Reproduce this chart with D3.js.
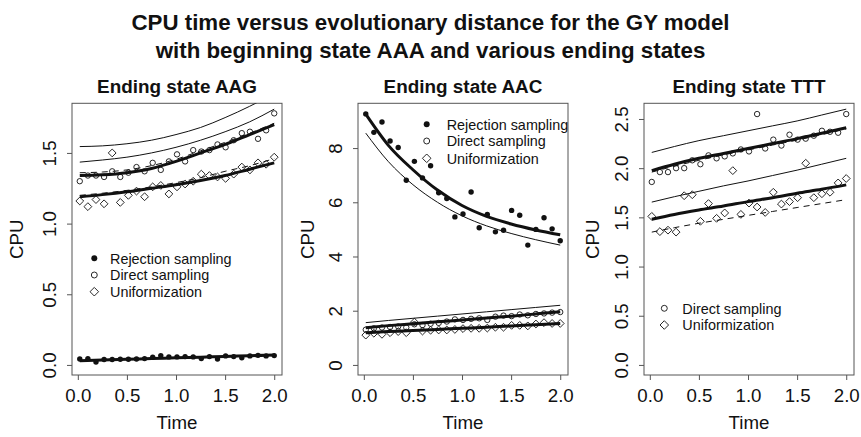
<!DOCTYPE html>
<html>
<head>
<meta charset="utf-8">
<script src="https://cdn.jsdelivr.net/npm/d3@7/dist/d3.min.js"></script>
<style>
  html, body { margin: 0; padding: 0; background: #fff; }
  svg { display: block; font-family: "Liberation Sans", Arial, Helvetica, sans-serif; }
</style>
</head>
<body>
<svg id="chart" width="861" height="437"></svg>
<script>
// ---------- DATA ----------
const titleLines = ["CPU time versus evolutionary distance for the GY model",
                    "with beginning state AAA and various ending states"];
const panelTitles = ["Ending state AAG", "Ending state AAC", "Ending state TTT"];
const xTicks = [0.0, 0.5, 1.0, 1.5, 2.0];
const xLimits = [0.02, 2.0];

// observation times
const time = [0.02, 0.1025, 0.185, 0.2675, 0.35, 0.4325, 0.515, 0.5975, 0.68, 0.7625,
              0.845, 0.9275, 1.01, 1.0925, 1.175, 1.2575, 1.34, 1.4225, 1.505, 1.5875,
              1.67, 1.7525, 1.835, 1.9175, 2.0];
// times at which the fitted / reference curves are read
const curveTime = [0.02, 0.25, 0.5, 0.75, 1.0, 1.25, 1.5, 1.75, 2.0];

// Panel 1: AAG
const aagYLimits = [0, 1.78];
const aagYTicks = [0.0, 0.5, 1.0, 1.5];
const aagRejection = [0.042,0.045,0.021,0.038,0.038,0.040,0.040,0.042,0.045,0.054,0.066,0.057,0.057,0.059,0.057,0.045,0.059,0.042,0.064,0.059,0.050,0.064,0.068,0.064,0.066];
const aagDirect    = [1.30,1.34,1.34,1.33,1.37,1.33,1.36,1.40,1.37,1.43,1.38,1.44,1.49,1.44,1.52,1.51,1.52,1.56,1.54,1.59,1.64,1.65,1.60,1.66,1.78];
const aagUniform   = [1.16,1.12,1.17,1.14,1.50,1.15,1.20,1.23,1.19,1.26,1.27,1.21,1.26,1.28,1.30,1.35,1.34,1.33,1.32,1.35,1.40,1.38,1.43,1.42,1.47];
const aagRejFit    = [0.030,0.035,0.040,0.045,0.050,0.055,0.060,0.065,0.070];
const aagDirFit    = [1.34,1.345,1.36,1.39,1.44,1.50,1.56,1.63,1.70];
const aagDirDash   = [1.36,1.365,1.38,1.41,1.455,1.515,1.575,1.64,1.71];
const aagDirThinA  = [1.545,1.55,1.565,1.59,1.63,1.68,1.75,1.83,1.92];
const aagDirThinB  = [1.435,1.45,1.47,1.50,1.54,1.59,1.65,1.72,1.81];
const aagUniFit    = [1.19,1.205,1.225,1.25,1.275,1.305,1.34,1.385,1.43];
const aagUniDash   = [1.20,1.215,1.235,1.26,1.29,1.325,1.37,1.41,1.46];

// Panel 2: AAC
const aacYLimits = [0, 9.28];
const aacYTicks = [0, 2, 4, 6, 8];
const aacRejection = [9.26,8.58,8.96,8.26,8.02,6.81,7.51,6.90,7.35,6.35,6.14,5.46,5.57,6.38,5.06,5.55,4.91,4.97,5.70,5.52,4.42,5.00,5.43,5.02,4.58];
const aacDirect    = [1.30,1.35,1.38,1.40,1.42,1.38,1.50,1.47,1.52,1.55,1.60,1.68,1.66,1.70,1.72,1.66,1.78,1.82,1.80,1.86,1.83,1.88,1.90,1.93,1.95];
const aacUniform   = [1.10,1.17,1.13,1.19,1.23,1.19,1.58,1.25,1.28,1.29,1.29,1.31,1.34,1.35,1.35,1.36,1.39,1.39,1.46,1.46,1.44,1.51,1.56,1.53,1.53];
const aacRejFit    = [9.25,8.10,7.20,6.45,5.88,5.48,5.20,4.98,4.80];
const aacRejThin   = [8.55,7.50,6.65,6.00,5.50,5.13,4.85,4.62,4.42];
const aacDirFit    = [1.375,1.45,1.52,1.59,1.66,1.73,1.80,1.88,1.96];
const aacDirThin   = [1.56,1.64,1.72,1.80,1.88,1.96,2.04,2.12,2.20];
const aacUniFit    = [1.19,1.23,1.27,1.31,1.35,1.39,1.44,1.48,1.53];

// Panel 3: TTT
const tttYLimits = [0, 2.557];
const tttYTicks = [0.0, 0.5, 1.0, 1.5, 2.0, 2.5];
const tttDirect    = [1.86,1.96,1.96,2.00,2.00,2.08,2.04,2.13,2.10,2.12,2.15,2.19,2.17,2.55,2.20,2.29,2.23,2.34,2.29,2.30,2.33,2.38,2.37,2.36,2.55];
const tttUniform   = [1.51,1.355,1.37,1.35,1.72,1.73,1.46,1.64,1.49,1.545,1.975,1.53,1.645,1.605,1.55,1.755,1.635,1.66,1.70,2.05,1.70,1.74,1.755,1.85,1.895];
const tttDirFit    = [1.975,2.04,2.10,2.15,2.20,2.25,2.30,2.355,2.41];
const tttDirDash   = [1.96,2.02,2.08,2.135,2.185,2.235,2.285,2.34,2.40];
const tttDirThin   = [2.16,2.22,2.28,2.33,2.38,2.43,2.48,2.54,2.60];
const tttUniFit    = [1.48,1.53,1.575,1.615,1.66,1.70,1.745,1.785,1.83];
const tttUniThin   = [1.655,1.71,1.765,1.82,1.87,1.925,1.98,2.04,2.10];
const tttUniDash   = [1.35,1.395,1.44,1.48,1.52,1.56,1.60,1.64,1.68];

const legendLabels = ["Rejection sampling", "Direct sampling", "Uniformization"];

// ---------- PANEL DEFINITIONS ----------
const panels = [
  { title: panelTitles[0], yLim: aagYLimits, yTicks: aagYTicks, fmt: d3.format(".1f"),
    left: 72, cpuX: 15.7,
    points: [{v: aagRejection, s: "filled"}, {v: aagDirect, s: "open"}, {v: aagUniform, s: "diamond"}],
    lines: [{v: aagDirThinA, w: "thin"}, {v: aagDirThinB, w: "thin"},
            {v: aagDirDash, w: "dash"}, {v: aagUniDash, w: "dash"},
            {v: aagRejFit, w: "thick"}, {v: aagDirFit, w: "thick"}, {v: aagUniFit, w: "thick"}],
    legend: {sx: 94.3, tx: 110, ys: [258.3, 275, 291.7], items: [0,1,2]} },
  { title: panelTitles[1], yLim: aacYLimits, yTicks: aacYTicks, fmt: d3.format("d"),
    left: 358, cpuX: 307.5,
    points: [{v: aacRejection, s: "filled"}, {v: aacDirect, s: "open"}, {v: aacUniform, s: "diamond"}],
    lines: [{v: aacRejThin, w: "thin"}, {v: aacDirThin, w: "thin"},
            {v: aacRejFit, w: "thick"}, {v: aacDirFit, w: "thick"}, {v: aacUniFit, w: "thick"}],
    legend: {sx: 426.7, tx: 446.7, ys: [124.3, 141, 158.3], items: [0,1,2]} },
  { title: panelTitles[2], yLim: tttYLimits, yTicks: tttYTicks, fmt: d3.format(".1f"),
    left: 644, cpuX: 592.5,
    points: [{v: tttDirect, s: "open"}, {v: tttUniform, s: "diamond"}],
    lines: [{v: tttDirThin, w: "thin"}, {v: tttUniThin, w: "thin"},
            {v: tttDirDash, w: "dash"}, {v: tttUniDash, w: "dash"},
            {v: tttDirFit, w: "thick"}, {v: tttUniFit, w: "thick"}],
    legend: {sx: 664.3, tx: 682.3, ys: [308.3, 325], items: [1,2]} }
];

const W = 210, TOP = 103.3, BOTTOM = 375;
const svg = d3.select("#chart");
const ink = "#111";
const boxCol = "#555";

// main title
svg.selectAll("text.main").data(titleLines).join("text")
  .attr("class", "main")
  .attr("x", 430.5).attr("y", (d, i) => 30 + i * 28)
  .attr("text-anchor", "middle")
  .attr("font-weight", "bold").attr("font-size", 22.3)
  .attr("fill", ink)
  .text(d => d);

function symbol(g, kind, x, y, big) {
  const k = big ? 1.1 : 1;
  if (kind === "filled") {
    g.append("circle").attr("cx", x).attr("cy", y).attr("r", 2.7 * k).attr("fill", ink);
  } else if (kind === "open") {
    g.append("circle").attr("cx", x).attr("cy", y).attr("r", 2.7 * k)
      .attr("fill", "none").attr("stroke", ink).attr("stroke-width", 0.9);
  } else {
    const s = 3.9 * k;
    g.append("path").attr("d", `M${x},${y - s}L${x + s},${y}L${x},${y + s}L${x - s},${y}Z`)
      .attr("fill", "none").attr("stroke", ink).attr("stroke-width", 0.9);
  }
}

panels.forEach((p, pi) => {
  const ext = 0.04 * (xLimits[1] - xLimits[0]);
  const x = d3.scaleLinear().domain([xLimits[0] - ext, xLimits[1] + ext]).range([p.left, p.left + W]);
  const yr = p.yLim[1] - p.yLim[0];
  const y = d3.scaleLinear().domain([p.yLim[0] - 0.04 * yr, p.yLim[1] + 0.04 * yr]).range([BOTTOM, TOP]);
  const g = svg.append("g");

  const clipId = "clip" + pi;
  svg.append("clipPath").attr("id", clipId).append("rect")
    .attr("x", p.left).attr("y", TOP).attr("width", W).attr("height", BOTTOM - TOP);

  // box
  g.append("rect").attr("x", p.left).attr("y", TOP).attr("width", W).attr("height", BOTTOM - TOP)
    .attr("fill", "none").attr("stroke", boxCol).attr("stroke-width", 1);

  // x axis
  const xa = g.append("g").attr("transform", `translate(0,${BOTTOM})`)
    .call(d3.axisBottom(x).tickValues(xTicks).tickFormat(d3.format(".1f")).tickSize(5).tickPadding(7));
  xa.select(".domain").remove();
  xa.selectAll("line").attr("stroke", boxCol);
  xa.selectAll("text").attr("font-size", 18.7).attr("fill", ink)
    .attr("font-family", "Liberation Sans, Arial, sans-serif").attr("dy", null).attr("y", 27);

  // y axis
  const ya = g.append("g").attr("transform", `translate(${p.left},0)`)
    .call(d3.axisLeft(y).tickValues(p.yTicks).tickFormat(p.fmt).tickSize(5));
  ya.select(".domain").remove();
  ya.selectAll("line").attr("stroke", boxCol);
  ya.selectAll("text").attr("font-size", 18.7).attr("fill", ink)
    .attr("font-family", "Liberation Sans, Arial, sans-serif")
    .attr("x", null).attr("dy", null)
    .attr("text-anchor", "middle")
    .attr("transform", "translate(-15.8,0) rotate(-90)");

  // axis titles
  g.append("text").attr("x", p.left + W / 2).attr("y", 428.5).attr("text-anchor", "middle")
    .attr("font-size", 18.7).attr("fill", ink).text("Time");
  g.append("text").attr("transform", `translate(${p.cpuX + 6.8},${(TOP + BOTTOM) / 2}) rotate(-90)`)
    .attr("text-anchor", "middle").attr("font-size", 18.7).attr("fill", ink).text("CPU");

  // panel title
  g.append("text").attr("x", p.left + W / 2).attr("y", 92.5).attr("text-anchor", "middle")
    .attr("font-weight", "bold").attr("font-size", 18.9).attr("fill", ink).text(p.title);

  // curves
  const line = d3.line().x(d => x(d[0])).y(d => y(d[1])).curve(d3.curveMonotoneX);
  const lg = g.append("g").attr("clip-path", `url(#${clipId})`);
  p.lines.forEach(L => {
    lg.append("path").datum(curveTime.map((t, i) => [t, L.v[i]]))
      .attr("d", line).attr("fill", "none").attr("stroke", ink)
      .attr("stroke-width", L.w === "thick" ? 3 : 1)
      .attr("stroke-dasharray", L.w === "dash" ? "6,5" : null);
  });

  // points
  const pg = g.append("g").attr("clip-path", `url(#${clipId})`);
  p.points.forEach(S => {
    S.v.forEach((v, i) => symbol(pg, S.s, x(time[i]), y(v), false));
  });

  // legend
  const kinds = ["filled", "open", "diamond"];
  p.legend.items.forEach((it, j) => {
    const yy = p.legend.ys[j];
    symbol(g, kinds[it], p.legend.sx, yy, true);
    g.append("text").attr("x", p.legend.tx).attr("y", yy + 5.2)
      .attr("font-size", 14.4).attr("fill", ink).text(legendLabels[it]);
  });
});
</script>
</body>
</html>
